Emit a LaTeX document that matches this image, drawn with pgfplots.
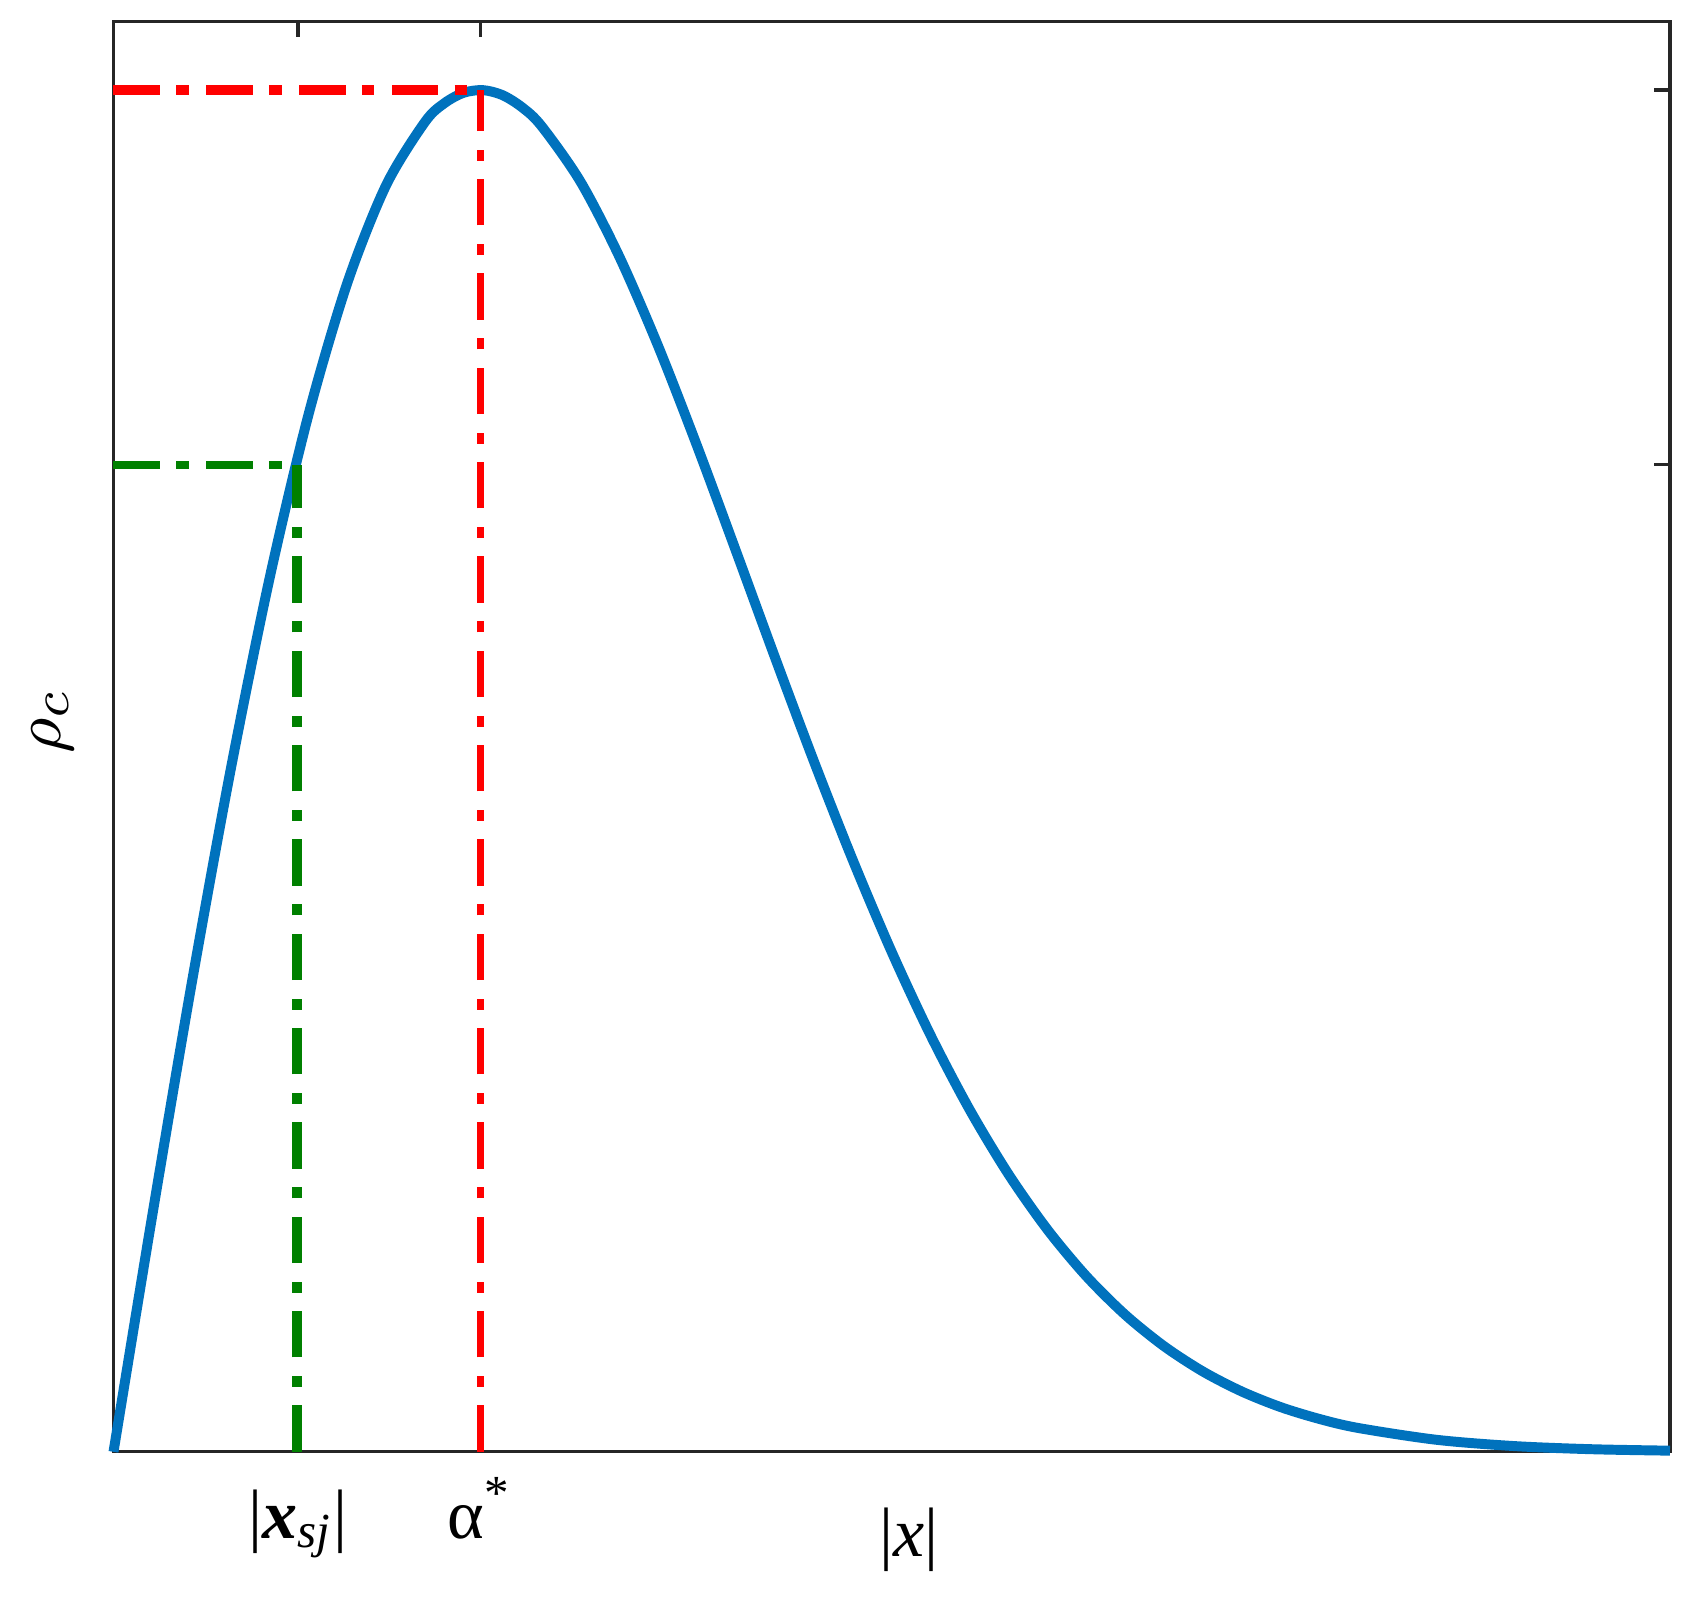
\documentclass[border=0pt]{standalone}
\usepackage{fontspec}
\setmainfont{Liberation Serif}
\usepackage{pgfplots}
\pgfplotsset{compat=1.18}

\definecolor{mblue}{HTML}{0072BD}
\definecolor{mgreen}{HTML}{008000}
\definecolor{maxis}{HTML}{262626}

\pgfplotstableread{
x      y
0.00   0.0000
0.25   0.1658
0.50   0.3260
0.75   0.4753
1.00   0.6093
1.25   0.7239
1.50   0.8164
1.75   0.8851
2.00   0.9295
2.125  0.9427
2.25   0.9501
2.375  0.9519
2.50   0.9484
2.625  0.9399
2.75   0.9268
3.00   0.8880
3.25   0.8355
3.50   0.7728
3.75   0.7030
4.00   0.6295
4.25   0.5553
4.50   0.4827
4.75   0.4136
5.00   0.3494
5.25   0.2911
5.50   0.2393
5.75   0.1941
6.00   0.1554
6.25   0.1228
6.50   0.0958
6.75   0.0738
7.00   0.0561
7.25   0.0421
7.50   0.0312
7.75   0.0229
8.00   0.0166
8.50   0.0084
9.00   0.0040
9.50   0.0018
10.00  0.0008
}\rhodata

\begin{document}
\fontsize{9.5}{11}\selectfont
\begin{tikzpicture}
\begin{axis}[
    name=ax,
    scale only axis,
    width=211.2pt,
    height=194.1pt,
    xmin=0, xmax=10,
    ymin=0, ymax=1,
    axis line style={maxis, line width=0.45pt},
    every tick/.style={maxis, line width=0.45pt},
    major tick length=2.1pt,
    xtick={1.185,2.357},
    xticklabels={{|\textbf{\textit{x}}\textsubscript{\textit{sj}}|}, {α\textsuperscript{*}}},
    xticklabel style={anchor=base, yshift=-11.7pt},
    ytick={0.690,0.952},
    yticklabels={},
    xlabel={|\textit{x}|},
    xlabel style={at={(axis description cs:0.511,-0.0732)}, anchor=base},
    ylabel={$\rho_c$},
    ylabel style={at={(axis description cs:-0.0388,0.511)}, anchor=center},
    clip=false,
]
\addplot[mblue, line width=1.35pt, smooth] table[x=x, y=y] {\rhodata};
% maximum
\addplot[red, line width=1.3pt, dash pattern=on 6.3pt off 2.2pt on 1.7pt off 2.4pt]
    coordinates {(0,0.952) (2.357,0.952)};
\addplot[red, line width=1.03pt, dash pattern=on 6.3pt off 2.5pt on 1.5pt off 2.5pt]
    coordinates {(2.357,0) (2.357,0.952)};
% x_sj level
\addplot[mgreen, line width=1.05pt, dash pattern=on 6.3pt off 2.2pt on 1.7pt off 2.4pt]
    coordinates {(0,0.690) (1.18,0.690)};
\addplot[mgreen, line width=1.35pt, dash pattern=on 6.3pt off 2.5pt on 1.5pt off 2.5pt]
    coordinates {(1.18,0) (1.18,0.690)};
\end{axis}
\pgfresetboundingbox
\path ([shift={(-15.4pt,-19.7pt)}]ax.south west) rectangle ([shift={(3.4pt,2.9pt)}]ax.north east);
\end{tikzpicture}
\end{document}
